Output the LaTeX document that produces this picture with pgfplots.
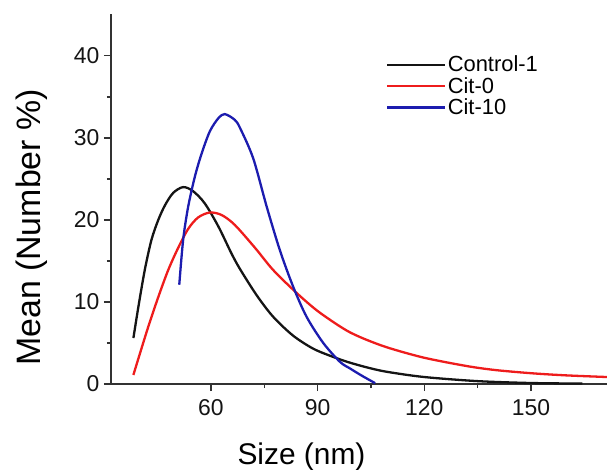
\documentclass[border=0pt]{standalone}
\usepackage{fontspec}
\setmainfont{Liberation Sans}
\usepackage{pgfplots}
\pgfplotsset{compat=1.18}
\definecolor{cblack}{RGB}{20,20,20}
\definecolor{cred}{RGB}{238,28,28}
\definecolor{cblue}{RGB}{28,28,175}
\definecolor{axgray}{RGB}{50,50,50}
\begin{document}
\begin{tikzpicture}
\begin{axis}[
  scale only axis,
  width=496bp, height=370bp,
  xmin=31.9, xmax=171.4,
  ymin=0, ymax=45.1,
  axis lines*=left,
  axis line style={axgray, line width=1.5bp},
  xtick={60,90,120,150},
  ytick={0,10,20,30,40},
  minor x tick num=1,
  minor y tick num=1,
  tick align=outside,
  major tick length=7bp,
  minor tick length=4bp,
  tick style={axgray, line width=1.3bp},
  xtick pos=left, ytick pos=left,
  /pgf/number format/assume math mode=true,
  ticklabel style={font=\fontsize{23}{23}\selectfont, text=cblack},
  xticklabel style={yshift=-5bp},
  yticklabel style={xshift=-1bp},
  xlabel={Size (nm)},
  ylabel={Mean (Number \%)},
  xlabel style={font=\fontsize{30}{30}\selectfont, at={(ticklabel cs:0.384)}, anchor=north, yshift=-20bp},
  ylabel style={font=\fontsize{34}{34}\selectfont, at={(ticklabel cs:0.423)}, anchor=south, yshift=20bp},
  legend style={draw=none, fill=none, at={(0.554,0.891)}, anchor=north west,
     font=\fontsize{22}{22}\selectfont, row sep=1bp, inner sep=0pt,
     nodes={inner sep=1.5bp}},
  legend cell align=left,
  legend image code/.code={\draw[#1] (0bp,0bp) -- (58bp,0bp);},
  every axis plot/.append style={line width=2.3bp},
]
\addplot[cblack, smooth] coordinates {
(38.2,5.6) (39.6,9.4) (41.4,13.9) (43.3,17.6) (45.2,20.0) (47.1,21.8)
(49.4,23.3) (52.2,24.0) (55.0,23.5) (58.3,22.0) (62.1,19.2) (65.8,15.9)
(68.2,14.0) (72.9,10.8) (77.5,8.2) (83.1,5.9) (88.8,4.3) (94.4,3.3)
(99.1,2.6) (105,1.9) (110,1.45) (120,0.85) (135,0.35) (150,0.12) (164.5,0.05)};
\addlegendentry{Control-1}
\addplot[cred, smooth] coordinates {
(38.2,1.1) (39.6,3.1) (42.4,7.0) (45.2,10.6) (48.0,13.9) (50.8,16.6)
(53.6,18.9) (56.4,20.3) (59.7,20.9) (63.0,20.6) (66.7,19.4) (72.4,16.6)
(77.5,13.9) (84.1,11.1) (89.7,9.0) (95.3,7.3) (99.1,6.3) (103.7,5.4)
(110,4.4) (120,3.2) (131.8,2.2) (140,1.7) (150.5,1.3) (160,1.05) (171.4,0.85)};
\addlegendentry{Cit-0}
\addplot[cblue, smooth] coordinates {
(51.1,12.1) (52.2,17.6) (53.6,21.6) (55.5,25.3) (57.4,28.1) (59.7,30.8)
(62.1,32.4) (63.9,32.9) (66.7,32.2) (68.2,31.2) (71.9,27.5) (75.7,21.6)
(79.4,16.3) (83.1,11.9) (86.9,8.2) (91.6,5.0) (96.3,2.7) (99.1,1.9)
(102.5,1.0) (106.2,0.1)};
\addlegendentry{Cit-10}
\end{axis}
\pgfresetboundingbox
\path (current axis.south west) ++(-111bp,-86bp) rectangle ([shift={(0bp,14bp)}]current axis.north east);
\end{tikzpicture}
\end{document}
